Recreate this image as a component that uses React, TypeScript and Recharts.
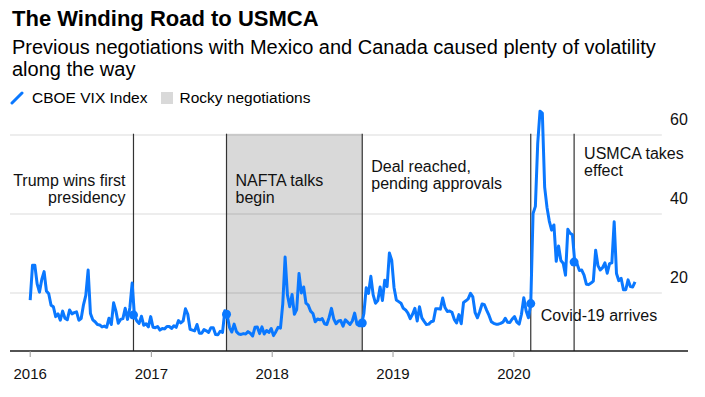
import { ComposedChart, Line, XAxis, YAxis, ReferenceArea, ReferenceLine, ReferenceDot } from "recharts"

const FONT = '"Liberation Sans", Arial, Helvetica, sans-serif'
const BLUE = "#0a78ff"

// weekly CBOE VIX closes
const firstWeek = "2016-01-01"
const vix2016 = [18.2, 27.0, 27.0, 22.3, 20.2, 23.4, 25.4, 20.5, 19.8, 16.9, 16.5, 14.0, 14.7, 13.1, 15.4, 13.6, 13.2, 15.7, 14.7, 15.0, 15.2, 13.1, 13.5, 17.0, 19.4, 25.8, 14.8, 13.2, 12.7, 12.0, 11.9, 11.4, 11.6, 11.3, 13.6, 12.0, 17.5, 15.4, 12.3, 13.3, 13.5, 16.1, 13.3, 16.2, 22.5, 14.2, 12.9, 12.3, 14.1, 11.8, 12.2, 11.4, 14.0]
const vix2017 = [11.3, 11.2, 11.5, 10.6, 11.0, 10.9, 11.5, 11.5, 11.0, 11.7, 11.3, 13.0, 12.4, 12.9, 16.0, 14.6, 10.8, 10.6, 10.4, 12.0, 9.8, 9.8, 10.7, 10.4, 10.0, 11.2, 11.2, 9.5, 9.4, 10.3, 10.0, 15.5, 14.3, 11.3, 10.1, 12.1, 10.2, 9.6, 9.5, 9.7, 9.6, 10.2, 9.8, 9.1, 11.3, 11.4, 9.7, 11.4, 9.6, 10.5, 10.0, 11.0]
const vix2018 = [9.2, 10.2, 11.3, 11.1, 17.3, 29.1, 19.5, 16.5, 19.6, 14.6, 15.8, 24.9, 20.0, 21.5, 17.4, 16.9, 15.4, 14.8, 12.7, 13.4, 13.2, 13.5, 12.2, 12.0, 13.8, 16.1, 13.4, 12.2, 12.9, 13.0, 11.6, 13.2, 12.6, 12.0, 12.9, 14.9, 12.1, 11.7, 12.1, 14.8, 21.3, 19.9, 24.2, 19.5, 17.4, 18.1, 21.5, 18.1, 23.2, 21.6, 30.1, 28.3]
const vix2019 = [21.4, 18.2, 17.8, 17.4, 16.1, 15.7, 14.9, 13.5, 14.6, 16.1, 12.9, 16.5, 13.7, 12.8, 12.0, 12.1, 12.7, 12.9, 16.0, 16.0, 15.9, 18.7, 16.3, 15.3, 15.4, 15.1, 13.3, 12.4, 14.5, 12.2, 17.6, 18.0, 18.5, 19.9, 19.0, 15.0, 13.7, 15.3, 17.2, 17.0, 15.6, 14.3, 12.7, 12.3, 12.1, 12.1, 12.3, 12.6, 13.6, 12.6, 12.5, 13.4]
const vix2020 = [14.0, 12.6, 12.1, 14.6, 18.8, 15.5, 13.7, 17.1, 40.1, 41.9, 57.8, 66.0, 65.5, 46.8, 41.7, 38.2, 35.9, 37.2, 28.0, 31.9, 28.2, 27.5, 24.5, 36.1, 35.1, 34.7, 27.7, 27.3, 25.7, 25.8, 24.5, 22.2, 22.1, 22.5, 23.0, 30.8, 26.9, 25.8, 26.4, 27.6, 25.0, 27.4, 27.6, 38.0, 24.9, 23.1, 23.7, 20.8, 20.8, 23.3, 21.6, 21.5, 22.8]

const yearTicks = [2016, 2017, 2018, 2019, 2020]
const valueTicks = [20, 40, 60]

const eventDates = ["2016-11-08", "2017-08-16", "2018-09-30", "2020-02-21", "2020-07-01"]
const eventVix = [14.4, 14.6, 12.4, 17.3, 27.8]
const eventLabels = [
  ["Trump wins first", "presidency"],
  ["NAFTA talks", "begin"],
  ["Deal reached,", "pending approvals"],
  ["Covid-19 arrives"],
  ["USMCA takes", "effect"],
]
const rockyPeriod = ["2017-08-16", "2018-09-30"]

const DAY = 86400000
const weekly = [...vix2016, ...vix2017, ...vix2018, ...vix2019, ...vix2020]
const data = weekly.map((vix, i) => ({ t: Date.parse(firstWeek) + i * 7 * DAY, vix }))

const X_MIN = Date.parse("2015-11-01")
const X_MAX = Date.parse("2021-06-10")
const GRID_END = Date.parse("2021-03-23")
const Y_MIN = 5.3
const Y_MAX = 68
const EVENT_TOP = 60.3

// where each annotation sits relative to the top of its event line
const labelPlacement = [
  { dx: -8, dy: 52, anchor: "end" },
  { dx: 9, dy: 52, anchor: "start" },
  { dx: 9, dy: 38, anchor: "start" },
  { dx: 10, dy: 187, anchor: "start" },
  { dx: 10, dy: 25, anchor: "start" },
]

const eventLabel = (i: number) => (props: any) => {
  const vb = props.viewBox
  const p = labelPlacement[i]
  const x = vb.x + p.dx
  return (
    <text x={x} y={vb.y + p.dy} textAnchor={p.anchor} fontSize={16} fill="#111">
      {eventLabels[i].map((line, k) => (
        <tspan key={k} x={x} dy={k === 0 ? 0 : 17.5}>
          {line}
        </tspan>
      ))}
    </text>
  )
}

const ValueTick = (props: any) => (
  <text x={670} y={props.y - 9.5} fontSize={16} fill="#111">
    {props.payload.value}
  </text>
)

const App = () => {
  return (
    <div style={{ position: "absolute", left: 0, top: 0, width: 705, height: 397, background: "#fff", fontFamily: FONT, color: "#000" }}>
      <div style={{ position: "absolute", left: 0, top: 0 }}>
        <ComposedChart width={705} height={397} data={data} margin={{ top: 103.3, right: 16, bottom: 16, left: 10 }}>
          <XAxis
            dataKey="t"
            type="number"
            domain={[X_MIN, X_MAX]}
            allowDataOverflow
            ticks={yearTicks.map((y) => Date.UTC(y, 0, 1))}
            tickFormatter={(v) => String(new Date(v).getUTCFullYear())}
            height={30}
            tickSize={6}
            tickMargin={11}
            axisLine={{ stroke: "#1a1a1a", strokeWidth: 1.5 }}
            tickLine={{ stroke: "#999" }}
            tick={{ fontSize: 15, fill: "#111" }}
          />
          <YAxis
            orientation="right"
            type="number"
            domain={[Y_MIN, Y_MAX]}
            allowDataOverflow
            ticks={valueTicks}
            width={1}
            axisLine={false}
            tickLine={false}
            tick={ValueTick}
          />
          <ReferenceArea
            x1={Date.parse(rockyPeriod[0])}
            x2={Date.parse(rockyPeriod[1])}
            y1={Y_MIN}
            y2={EVENT_TOP}
            fill="#d9d9d9"
            fillOpacity={1}
            stroke="none"
          />
          {valueTicks.map((v) => (
            <ReferenceLine
              key={`grid-${v}`}
              segment={[{ x: X_MIN, y: v }, { x: GRID_END, y: v }]}
              stroke="rgba(0,0,0,0.07)"
              strokeWidth={2}
            />
          ))}
          {eventDates.map((d, i) => (
            <ReferenceLine
              key={`event-${d}`}
              segment={[{ x: Date.parse(d), y: Y_MIN }, { x: Date.parse(d), y: EVENT_TOP }]}
              stroke="#333"
              strokeWidth={1.2}
              label={eventLabel(i)}
            />
          ))}
          <Line
            type="linear"
            dataKey="vix"
            stroke={BLUE}
            strokeWidth={3}
            strokeLinejoin="round"
            dot={false}
            activeDot={false}
            isAnimationActive={false}
          />
          {eventDates.map((d, i) => (
            <ReferenceDot key={`dot-${d}`} x={Date.parse(d)} y={eventVix[i]} r={4.5} fill={BLUE} stroke="none" />
          ))}
        </ComposedChart>
      </div>

      <div style={{ position: "absolute", left: 12, top: 6, fontSize: 22, fontWeight: 700, lineHeight: 1.15, whiteSpace: "nowrap" }}>
        The Winding Road to USMCA
      </div>
      <div style={{ position: "absolute", left: 12, top: 36, width: 680, fontSize: 20, lineHeight: "22.4px" }}>
        Previous negotiations with Mexico and Canada caused plenty of volatility along the way
      </div>
      <div style={{ position: "absolute", left: 10, top: 89, height: 18, display: "flex", alignItems: "center", fontSize: 15.5, lineHeight: "18px", whiteSpace: "nowrap" }}>
        <svg width={14} height={14} style={{ marginRight: 8 }}>
          <line x1={2} y1={12} x2={12} y2={2} stroke={BLUE} strokeWidth={3} strokeLinecap="round" />
        </svg>
        <span>CBOE VIX Index</span>
        <span style={{ display: "inline-block", width: 12, height: 12, background: "#d9d9d9", marginLeft: 14, marginRight: 6 }} />
        <span>Rocky negotiations</span>
      </div>
    </div>
  )
}

export default App
